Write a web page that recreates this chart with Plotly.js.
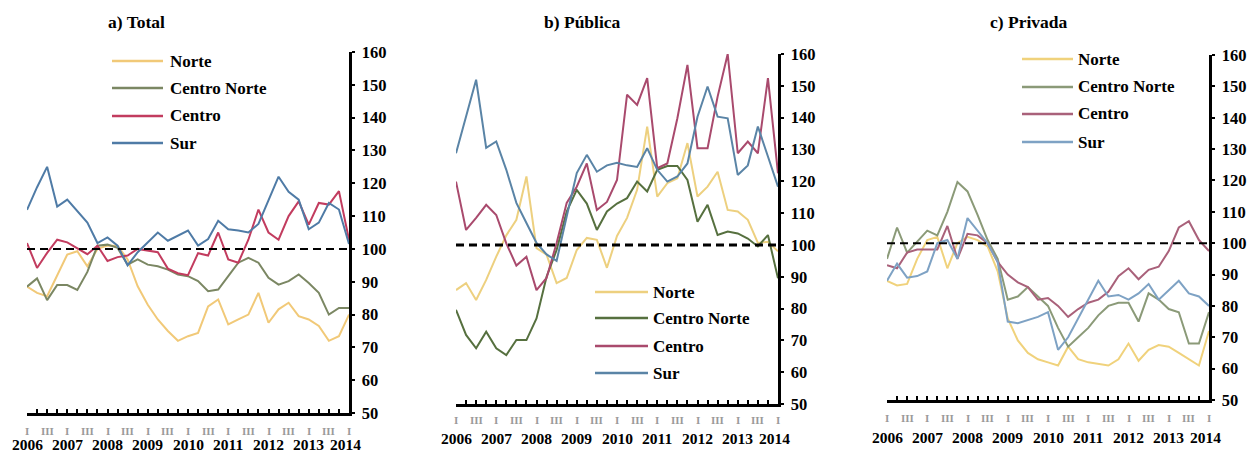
<!DOCTYPE html>
<html>
<head>
<meta charset="utf-8">
<script src="https://cdn.plot.ly/plotly-3.0.1.min.js"></script>
<style>
  html, body { margin: 0; padding: 0; background: #fff; }
  #chart { width: 1247px; height: 453px; }
</style>
</head>
<body>
<div id="chart"></div>
<script>
// Quarterly index (2008 = 100), 2006 I to 2014 I
const years = ['2006', '2007', '2008', '2009', '2010', '2011', '2012', '2013', '2014'];
const quarterNames = ['I', 'II', 'III', 'IV'];
const regionNames = ['Norte', 'Centro Norte', 'Centro', 'Sur'];
const panelTitles = ['a) Total', 'b) Pública', 'c) Privada'];
const baseIndex = 100;

// a) Total
const totalNorte = [88.5, 86.6, 85.6, 91.7, 98.3, 99.3, 94.7, 100, 101, 101, 96.8, 88.6, 83, 78.5, 75, 72, 73.4, 74.4, 82.5, 84.6, 77, 78.5, 80, 86.6, 77.5, 81.6, 83.6, 79.5, 78.5, 76.5, 72, 73.4, 80];
const totalCentroNorte = [88.5, 91, 84.4, 89, 89, 87.5, 93, 101, 101.3, 100.3, 95.2, 96.8, 95.2, 94.7, 93.7, 92.2, 91.7, 90.2, 87.1, 87.6, 91.7, 95.8, 97.3, 95.8, 91.2, 89.1, 90.2, 92.2, 89.6, 86.6, 80, 82, 82];
const totalCentro = [101.8, 94.2, 98.8, 102.8, 102, 100.3, 98.4, 101, 96.3, 97.5, 98, 100, 99.5, 99, 94, 92.6, 92, 98.7, 98, 105, 96.8, 95.8, 102.8, 112, 105, 102.8, 110, 114.5, 107.4, 114, 113.5, 117.6, 102.8];
const totalSur = [111.9, 118.8, 125, 112.9, 115, 111.4, 108, 101.8, 103.5, 101, 95, 99, 102, 105, 102.5, 104, 105.6, 101, 103, 108.6, 106, 105.6, 105, 107.6, 114.9, 122, 117.4, 115, 106, 108, 114, 112, 101.5];

// b) Pública
const publicaNorte = [85.8, 88, 82.7, 89, 96.3, 103, 107.9, 121.5, 99, 96.9, 88, 89.6, 98.4, 102.2, 101.6, 92.8, 102.8, 108.5, 117.3, 137.2, 115.2, 119.4, 120.9, 132, 115.2, 118.3, 123, 111, 110.5, 107.9, 100.6, 101, 98];
const publicaCentroNorte = [79.6, 71.7, 67.5, 72.7, 67.5, 65.4, 70.1, 70.1, 76.9, 90, 98.4, 110.5, 117.3, 113, 104.7, 110.5, 113, 114.7, 119.9, 116.8, 123.6, 124.8, 124.8, 120.4, 107.3, 112.6, 103.1, 104.2, 103.6, 102, 99.5, 103.1, 89.5];
const publicaCentro = [119.9, 104.7, 108.5, 112.6, 109.4, 100.5, 93.5, 96.3, 85.8, 89.6, 100.6, 113.2, 118.3, 125.6, 111, 113.5, 120.4, 147.2, 144, 152.4, 124.1, 125.6, 139.8, 156.6, 130.4, 130.4, 146.6, 160, 128.8, 132.5, 128.8, 152.4, 122.5];
const publicaSur = [128.8, 140.3, 151.9, 130.5, 132.5, 123.6, 113.2, 106.9, 100.6, 97, 95, 108.9, 122.6, 128.3, 123, 125, 125.8, 125, 124.5, 130.4, 123.6, 119.9, 121.5, 125.6, 140.3, 149.8, 140.3, 139.8, 122, 125, 137.2, 127.8, 118.3];

// c) Privada
const privadaNorte = [88, 86.5, 87, 95, 101, 102, 92, 100, 102, 101, 99, 91, 76, 69, 65, 63, 62, 61, 67, 63, 62, 61.5, 61, 63, 68, 62.5, 66, 67.5, 67, 65, 63, 61, 72];
const privadaCentroNorte = [95, 105, 97, 100.5, 104, 102.5, 110, 119.5, 116.5, 109, 101, 95, 82, 83, 86, 83, 80, 73, 67, 70, 73, 77, 80, 81, 81, 75, 84, 82, 79, 78, 68, 68, 78];
const privadaCentro = [93, 92, 97, 98, 98, 98, 105.5, 95, 103, 102.5, 100, 94, 90, 87.5, 86, 82, 82.5, 80, 76.5, 79, 81, 82, 84.5, 89.5, 92, 88.5, 91.5, 92.5, 97.5, 105, 107, 101, 97.5];
const privadaSur = [88, 93.5, 89, 89.5, 91, 100, 101, 95, 108, 104, 100, 94, 75, 74.5, 75.5, 76.5, 78, 66, 70, 76, 82, 88, 83, 83.5, 82, 84, 87, 82, 85, 88, 84, 83, 80];

const W = 1247, H = 453;
const px = v => v / W;
const py = v => 1 - v / H;

// Panel geometry in page pixels
const panels = [
  { series: [totalNorte, totalCentroNorte, totalCentro, totalSur],
    colors: ['#f1c978', '#7b8763', '#c23c5f', '#4f7ba6'],
    x0: 27, x1: 349, yTop: 52, yBottom: 413, dashW: 2,
    qY: 431, yearY: 444, titleX: 136,
    leg: { lx0: 112, lx1: 163, tx: 168, rows: [61, 88, 116, 143] } },
  { series: [publicaNorte, publicaCentroNorte, publicaCentro, publicaSur],
    colors: ['#edd07f', '#56703f', '#a94a6d', '#5a84a6'],
    x0: 456, x1: 778, yTop: 54, yBottom: 404, dashW: 3,
    qY: 420, yearY: 438, titleX: 582,
    leg: { lx0: 595, lx1: 648, tx: 651, rows: [292, 318, 346, 373] } },
  { series: [privadaNorte, privadaCentroNorte, privadaCentro, privadaSur],
    colors: ['#f0d27c', '#8b9a78', '#a9617a', '#7ea2c4'],
    x0: 887, x1: 1209, yTop: 55, yBottom: 400, dashW: 2,
    qY: 418, yearY: 437, titleX: 1029,
    leg: { lx0: 1022, lx1: 1073, tx: 1076, rows: [59, 87, 114, 142] } }
];

const nQ = totalNorte.length;
const qIndex = Array.from({ length: nQ }, (_, i) => i);
const periodLabel = i => years[Math.floor(i / 4)] + ' ' + quarterNames[i % 4];

const serif = '"Liberation Serif", "Times New Roman", serif';
const traces = [];
const layout = {
  width: W, height: H,
  margin: { l: 0, r: 0, t: 0, b: 0 },
  paper_bgcolor: '#ffffff', plot_bgcolor: '#ffffff',
  showlegend: false,
  shapes: [], annotations: []
};

panels.forEach((p, k) => {
  const sfx = k === 0 ? '' : String(k + 1);
  const xa = 'x' + sfx, ya = 'y' + sfx;

  p.series.forEach((vals, s) => {
    traces.push({
      type: 'scatter', mode: 'lines',
      x: qIndex, y: vals, xaxis: xa, yaxis: ya,
      name: regionNames[s],
      text: qIndex.map(periodLabel),
      line: { color: p.colors[s], width: 2 },
      hoverinfo: 'skip'
    });
  });

  layout['xaxis' + sfx] = {
    domain: [px(p.x0), px(p.x1)], range: [0, nQ - 1], anchor: ya,
    showline: true, linecolor: '#000', linewidth: 3,
    ticks: 'inside', tickvals: qIndex, ticklen: 4, tickwidth: 2, tickcolor: '#000',
    showticklabels: false, showgrid: false, zeroline: false, fixedrange: true
  };
  layout['yaxis' + sfx] = {
    domain: [py(p.yBottom), py(p.yTop)], range: [50, 160], anchor: xa, side: 'right',
    showline: true, linecolor: '#000', linewidth: 2.5,
    ticks: 'outside', dtick: 10, tick0: 50, ticklen: 3, tickwidth: 2, tickcolor: '#000',
    ticklabelstandoff: 4,
    tickfont: { family: serif, size: 16.5, color: '#000', weight: 'bold' },
    showgrid: false, zeroline: false, fixedrange: true
  };

  // reference level
  layout.shapes.push({
    type: 'line', xref: xa, yref: ya, x0: 0, x1: nQ - 1, y0: baseIndex, y1: baseIndex,
    line: { color: '#000', width: p.dashW, dash: '8px,5px' }
  });

  // quarter and year labels under the axis
  qIndex.forEach(i => {
    if (i % 2 === 0) {
      layout.annotations.push({
        xref: xa, yref: 'paper', x: i, y: py(p.qY), showarrow: false,
        text: quarterNames[i % 4], xanchor: 'center', yanchor: 'middle',
        font: { family: serif, size: 11, color: '#9a9a9a', weight: 'bold' }
      });
    }
    if (i % 4 === 0) {
      layout.annotations.push({
        xref: xa, yref: 'paper', x: i, y: py(p.yearY), showarrow: false,
        text: years[i / 4], xanchor: 'center', yanchor: 'middle',
        xshift: i === nQ - 1 ? -4 : 0,
        font: { family: serif, size: 15.5, color: '#000', weight: 'bold' }
      });
    }
  });

  // panel title
  layout.annotations.push({
    xref: 'paper', yref: 'paper', x: px(p.titleX), y: py(22), showarrow: false,
    text: panelTitles[k], xanchor: 'center', yanchor: 'middle',
    font: { family: serif, size: 17.5, color: '#000', weight: 'bold' }
  });

  // legend
  regionNames.forEach((nm, s) => {
    const ry = py(p.leg.rows[s]);
    layout.shapes.push({
      type: 'line', xref: 'paper', yref: 'paper',
      x0: px(p.leg.lx0), x1: px(p.leg.lx1), y0: ry, y1: ry,
      line: { color: p.colors[s], width: 2.5 }
    });
    layout.annotations.push({
      xref: 'paper', yref: 'paper', x: px(p.leg.tx), y: ry, showarrow: false,
      text: nm, xanchor: 'left', yanchor: 'middle',
      font: { family: serif, size: 17, color: '#000', weight: 'bold' }
    });
  });
});

Plotly.newPlot('chart', traces, layout, { staticPlot: true, displayModeBar: false });
</script>
</body>
</html>
